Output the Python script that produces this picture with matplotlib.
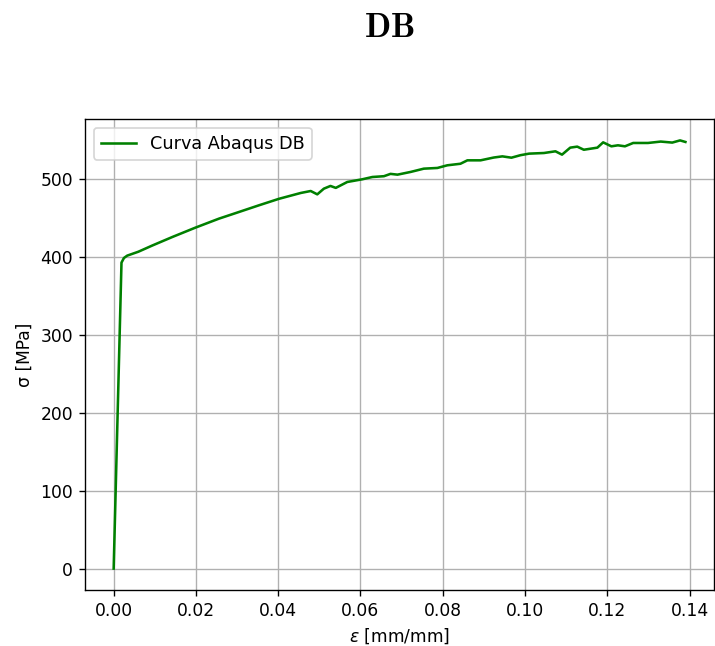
import matplotlib
matplotlib.use("Agg")
import matplotlib.pyplot as plt

# Stress-strain curve (Abaqus, DB)
strain = [0.0, 0.0019, 0.0025, 0.0033, 0.0060, 0.0094, 0.0143, 0.0199, 0.0256,
          0.0297, 0.0353, 0.0402, 0.0455, 0.0479, 0.0495, 0.0511, 0.0527, 0.0540,
          0.0568, 0.0604, 0.0629, 0.0657, 0.0673, 0.0690, 0.0722, 0.0754, 0.0787,
          0.0811, 0.0843, 0.0860, 0.0892, 0.0924, 0.0945, 0.0967, 0.0989, 0.1010,
          0.1046, 0.1074, 0.1090, 0.1110, 0.1127, 0.1143, 0.1176, 0.1190, 0.1210,
          0.1226, 0.1243, 0.1263, 0.1299, 0.1330, 0.1358, 0.1377, 0.1390]
stress = [0.0, 393.0, 399.0, 402.0, 407.0, 415.0, 426.0, 438.0, 449.5,
          456.7, 466.6, 475.0, 482.5, 485.0, 480.7, 488.0, 491.5, 489.0,
          496.6, 500.0, 503.0, 504.0, 507.0, 506.0, 509.5, 513.7, 514.6,
          518.0, 520.0, 524.4, 524.4, 528.0, 529.5, 527.8, 531.0, 533.0,
          533.8, 536.0, 531.7, 540.7, 542.0, 538.0, 540.7, 547.5, 542.4,
          543.7, 542.4, 546.7, 546.7, 548.5, 547.2, 550.0, 548.0]

DPI = 123
fig = plt.figure(figsize=(715 / DPI, 646 / DPI), dpi=DPI)
ax = fig.add_axes([0.119, 0.0867, 0.8796, 0.7291])

ax.plot(strain, stress, color="green", linewidth=1.5, label="Curva Abaqus DB")
ax.grid(True)
ax.legend(loc="upper left", fontsize=10.3)
ax.set_xlabel(r"$\varepsilon$ [mm/mm]")
ax.set_ylabel("σ [MPa]")

fig.text(0.545, 0.9427, r"$\mathbf{DB}$", ha="center", va="baseline",
         fontsize=20, math_fontfamily="cm")

fig.savefig("out.png", dpi=DPI)
